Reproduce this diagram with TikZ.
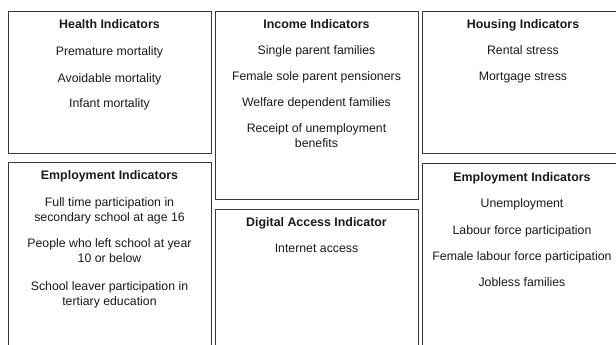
\documentclass[tikz,border=0pt]{standalone}
\usepackage{fontspec}
\setmainfont{Liberation Sans}
\begin{document}
\begin{tikzpicture}[x=1pt,y=-1pt,
  box/.style={draw=black!78, line width=1.1pt, inner sep=0, anchor=north west},
  ttl/.style={font=\fontsize{12.4}{14.6}\selectfont\bfseries, text=black!90, anchor=base, inner sep=0},
  itm/.style={font=\fontsize{12.3}{14.8}\selectfont, text=black!90, anchor=base, align=center, inner sep=0}]
\useasboundingbox (0,0) rectangle (616,345);
\begin{scope}
\clip (0,0) rectangle (616,345);
% boxes
\node[box, minimum width=203pt, minimum height=142pt] (health) at (8,11) {};
\node[box, minimum width=203pt, minimum height=188pt] (income) at (215,11) {};
\node[box, minimum width=202pt, minimum height=142pt] (housing) at (422,11) {};
\node[box, minimum width=203pt, minimum height=200pt] (empl) at (8,162) {};
\node[box, minimum width=203pt, minimum height=150pt] (digital) at (215,209) {};
\node[box, minimum width=202pt, minimum height=200pt] (empr) at (422,163) {};
% health
\node[ttl] (h0) at (109.5,29) {Health Indicators};
\node[itm] (h1) at (109.5,56) {Premature mortality};
\node[itm] (h2) at (109.5,82) {Avoidable mortality};
\node[itm] (h3) at (109.5,107.5) {Infant mortality};
% income
\node[ttl] (i0) at (316.5,28.5) {Income Indicators};
\node[itm] (i1) at (316.5,55) {Single parent families};
\node[itm] (i2) at (316.5,81) {Female sole parent pensioners};
\node[itm] (i3) at (316.5,106.5) {Welfare dependent families};
\node[itm] (i4) at (316.5,147.5) {Receipt of unemployment\\benefits};
% housing
\node[ttl] (o0) at (523,28.5) {Housing Indicators};
\node[itm] (o1) at (523,55) {Rental stress};
\node[itm] (o2) at (523,81) {Mortgage stress};
% employment left
\node[ttl] (l0) at (109.5,179.5) {Employment Indicators};
\node[itm] (l1) at (109.5,221) {Full time participation in\\secondary school at age 16};
\node[itm] (l2) at (109.5,262.5) {People who left school at year\\10 or below};
\node[itm] (l3) at (109.5,305) {School leaver participation in\\tertiary education};
% digital
\node[ttl] (d0) at (316.5,226.5) {Digital Access Indicator};
\node[itm] (d1) at (316.5,252.5) {Internet access};
% employment right
\node[ttl] (r0) at (522,181.5) {Employment Indicators};
\node[itm] (r1) at (522,207.5) {Unemployment};
\node[itm] (r2) at (522,234.5) {Labour force participation};
\node[itm] (r3) at (522,260.5) {Female labour force participation};
\node[itm] (r4) at (522,286.5) {Jobless families};
\end{scope}
\end{tikzpicture}
\end{document}
